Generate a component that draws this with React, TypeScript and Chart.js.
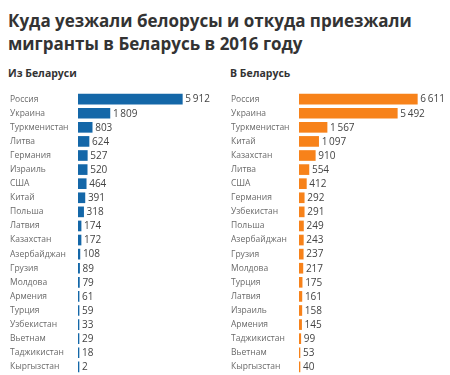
import React, { useEffect, useRef } from "react";
import { Chart, registerables } from "chart.js";

Chart.register(...registerables);

const fromLabels = ["Россия", "Украина", "Туркменистан", "Литва", "Германия", "Израиль", "США", "Китай", "Польша", "Латвия", "Казахстан", "Азербайджан", "Грузия", "Молдова", "Армения", "Турция", "Узбекистан", "Вьетнам", "Таджикистан", "Кыргызстан"];
const fromValues = [5912, 1809, 803, 624, 527, 520, 464, 391, 318, 174, 172, 108, 89, 79, 61, 59, 33, 29, 18, 2];

const toLabels = ["Россия", "Украина", "Туркменистан", "Китай", "Казахстан", "Литва", "США", "Германия", "Узбекистан", "Польша", "Азербайджан", "Грузия", "Молдова", "Турция", "Латвия", "Израиль", "Армения", "Таджикистан", "Вьетнам", "Кыргызстан"];
const toValues = [6611, 5492, 1567, 1097, 910, 554, 412, 292, 291, 249, 243, 237, 217, 175, 161, 158, 145, 99, 53, 40];

const title = "Куда уезжали белорусы и откуда приезжали мигранты в Беларусь в 2016 году";
const leftTitle = "Из Беларуси";
const rightTitle = "В Беларусь";

const FONT = "'Open Sans', 'Noto Sans', sans-serif";

function fmt(v: number): string {
  const s = String(v);
  return s.length > 3 ? s.slice(0, s.length - 3) + "\u2009" + s.slice(s.length - 3) : s;
}

const valueLabels = {
  id: "valueLabels",
  afterDatasetsDraw(chart: any) {
    const ctx = chart.ctx;
    const meta = chart.getDatasetMeta(0);
    const data = chart.data.datasets[0].data;
    ctx.save();
    ctx.font = `10px ${FONT}`;
    ctx.fillStyle = "#444";
    ctx.textAlign = "left";
    ctx.textBaseline = "middle";
    meta.data.forEach((bar: any, i: number) => {
      ctx.fillText(fmt(data[i]), bar.x + 3, bar.y + 0.5);
    });
    ctx.restore();
  },
};

function BarPanel(props: { labels: string[]; values: number[]; color: string; max: number; left: number; width: number }) {
  const ref = useRef<HTMLCanvasElement>(null);
  useEffect(() => {
    if (!ref.current) return;
    const chart = new Chart(ref.current, {
      type: "bar",
      data: {
        labels: props.labels,
        datasets: [
          {
            data: props.values,
            backgroundColor: props.color,
            barThickness: 10,
            minBarLength: 1,
          },
        ],
      },
      options: {
        indexAxis: "y",
        animation: false,
        responsive: false,
        maintainAspectRatio: false,
        layout: { padding: 0 },
        plugins: { legend: { display: false }, tooltip: { enabled: false }, title: { display: false } },
        scales: {
          x: {
            min: 0,
            max: props.max,
            display: false,
            grid: { display: false },
          },
          y: {
            grid: { display: false },
            border: { display: false },
            ticks: {
              crossAlign: "far",
              color: "#6a6a6a",
              font: { family: FONT, size: 8.5 },
              padding: 0,
              autoSkip: false,
            },
            afterFit: (scale: any) => {
              scale.width = 68;
            },
          },
        },
      },
      plugins: [valueLabels],
    } as any);
    return () => chart.destroy();
  }, []);
  return (
    <canvas
      ref={ref}
      width={props.width}
      height={292}
      style={{ position: "absolute", left: props.left, top: 87, width: props.width, height: 292 }}
    />
  );
}

export default function App() {
  return (
    <div style={{ position: "fixed", left: 0, top: 0, width: 450, height: 375, overflow: "hidden", background: "#fff", fontFamily: FONT }}>
      <div style={{ position: "absolute", left: 8, top: 9, width: 430, fontSize: 17, lineHeight: "23px", fontWeight: 700, color: "#333" }}>
        {title}
      </div>
      <div style={{ position: "absolute", left: 8, top: 66, fontSize: 10.5, lineHeight: "15px", fontWeight: 700, color: "#333" }}>
        {leftTitle}
      </div>
      <div style={{ position: "absolute", left: 230, top: 66, fontSize: 10.5, lineHeight: "15px", fontWeight: 700, color: "#333" }}>
        {rightTitle}
      </div>
      <BarPanel labels={fromLabels} values={fromValues} color="#1467a8" max={8330} left={10} width={215} />
      <BarPanel labels={toLabels} values={toValues} color="#f7821a" max={8436} left={231} width={219} />
    </div>
  );
}
